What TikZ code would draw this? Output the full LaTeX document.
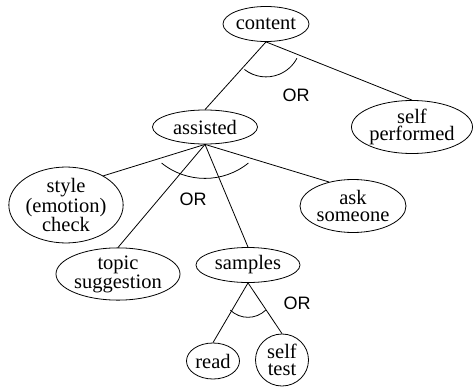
\documentclass[tikz,border=0pt]{standalone}
\usepackage{fontspec}
\setmainfont{Liberation Serif}
\newfontfamily\orfont{Liberation Sans}
\usetikzlibrary{shapes.geometric, calc}

\begin{document}
\begin{tikzpicture}[
        x=1pt, y=1pt, line width=0.8pt,
        goal/.style={ellipse, draw, inner sep=0pt, align=center,
                     font=\fontsize{20.5}{17}\selectfont},
        orlabel/.style={font=\orfont\fontsize{18}{18}\selectfont},
    ]
    \useasboundingbox (0,0) rectangle (473,386);

    \node[goal, minimum width=86pt, minimum height=35pt] (content) at (266,362) {content};
    \node[goal, minimum width=105pt, minimum height=34pt] (assisted) at (205,259) {assisted};
    \node[goal, minimum width=121pt, minimum height=53pt] (selfperf) at (412,259) {self\\performed};
    \node[goal, minimum width=104pt, minimum height=68pt] (style) at (66,181) {style\\(emotion)\\check};
    \node[goal, minimum width=106pt, minimum height=53pt] (ask) at (353,180) {ask\\someone};
    \node[goal, minimum width=104pt, minimum height=52pt] (topic) at (118,112) {topic\\suggestion};
    \node[goal, minimum width=104pt, minimum height=35pt] (samples) at (248,121) {samples};
    \node[goal, minimum width=53pt, minimum height=36pt] (read) at (213,25) {read};
    \node[goal, minimum width=53pt, minimum height=52pt] (selftest) at (282,26) {self\\test};

    \draw (content.south) -- (assisted.north);
    \draw (content.south) -- (selfperf.north);
    \draw (assisted.south) -- (style.38);
    \draw (assisted.south) -- (topic.north);
    \draw (assisted.south) -- (samples.north);
    \draw (assisted.south) -- (ask.135);
    \draw (samples.south) -- (read.north);
    \draw (samples.south) -- (selftest.north);

    % OR arcs
    \draw ([shift={(232:35)}]content.south) arc[start angle=232, end angle=332, radius=35];
    \draw ($(assisted.south)+(0,35)+(231:69)$) arc[start angle=231, end angle=309, radius=69];
    \draw ($(samples.south)+(0,-9)+(226:25.4)$) arc[start angle=226, end angle=314, radius=25.4];

    \node[orlabel] (or1) at (296,291) {OR};
    \node[orlabel] (or2) at (193,187) {OR};
    \node[orlabel] (or3) at (297,83) {OR};
\end{tikzpicture}
\end{document}
